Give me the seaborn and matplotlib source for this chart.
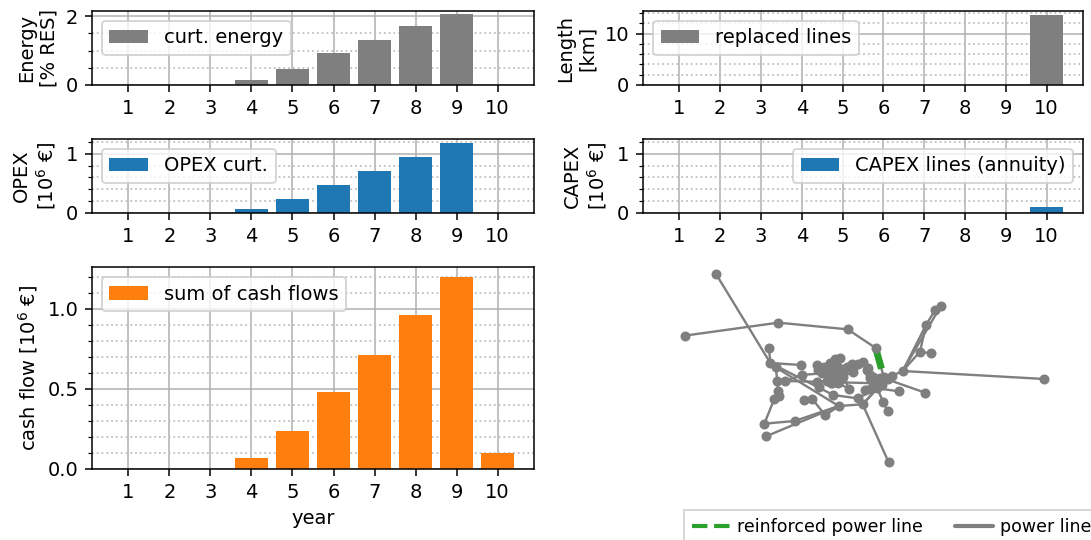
import matplotlib
matplotlib.use("Agg")

import matplotlib.pyplot as plt
from matplotlib.lines import Line2D
from matplotlib.ticker import MultipleLocator
import pandas as pd
import seaborn as sns

W, H = 1091, 540

years = [1, 2, 3, 4, 5, 6, 7, 8, 9, 10]
curt_energy = [0, 0, 0, 0.15, 0.47, 0.94, 1.32, 1.71, 2.06, 0]
replaced_lines = [0, 0, 0, 0, 0, 0, 0, 0, 0, 13.7]
opex_curt = [0, 0, 0, 0.07, 0.24, 0.48, 0.71, 0.95, 1.19, 0]
capex_lines = [0, 0, 0, 0, 0, 0, 0, 0, 0, 0.10]
cash_flow = [0, 0, 0, 0.07, 0.24, 0.48, 0.71, 0.96, 1.20, 0.10]

# grid nodes
node_x = [228, 134, 415, 623, 707, 731, 733, 903, 885, 858, 840, 872, 788, 757, 1213, 855, 777,
          712, 729, 743, 668, 746, 653, 690, 675, 596, 556, 464, 373, 378, 403, 418, 414, 491,
          516, 580, 627, 412, 436, 537, 532, 407, 391, 387, 484, 485, 530, 545, 553, 570, 585,
          600, 560, 575, 590, 610, 600, 590, 640, 635, 655, 670, 690, 700, 715, 725, 680,
          555, 575, 595, 600, 585, 570, 580, 600, 565, 640, 685, 690, 700, 710, 720, 745, 725,
          705, 610, 620, 535, 572, 595]
node_y = [57, 242, 203, 223, 279, 365, 370, 152, 166, 210, 290, 295, 348, 362, 372, 413, 409,
          400, 440, 468, 448, 622, 430, 403, 406, 453, 481, 498, 506, 544, 432, 424, 408, 435,
          431, 420, 401, 377, 378, 397, 380, 337, 324, 280, 330, 360, 331, 355, 335, 325, 313,
          308, 378, 385, 370, 365, 345, 340, 352, 327, 327, 320, 368, 380, 385, 375, 345,
          340, 335, 335, 355, 360, 360, 375, 375, 375, 340, 338, 360, 365, 380, 370, 372, 390,
          395, 345, 335, 345, 383, 385]
edges = [(0, 42), (42, 41), (1, 2), (2, 3), (3, 4), (4, 5), (5, 6), (6, 13), (13, 12), (12, 14),
         (12, 9), (9, 8), (8, 7), (12, 7), (10, 9), (12, 10), (10, 11), (6, 15), (17, 16), (6, 17),
         (17, 18), (18, 19), (17, 20), (20, 21), (20, 25), (25, 27), (27, 28), (28, 30), (30, 31),
         (31, 32), (32, 37), (29, 25), (26, 34), (34, 33), (41, 25), (42, 35), (35, 22), (22, 17),
         (37, 38), (38, 64), (42, 44), (41, 37), (38, 45), (45, 47), (43, 42), (47, 51), (46, 48),
         (48, 49), (49, 50), (50, 51), (40, 39), (40, 52), (52, 53), (53, 54), (54, 55), (55, 56),
         (56, 57), (57, 47), (54, 58), (58, 59), (59, 60), (60, 61), (61, 66), (66, 62), (62, 63),
         (63, 64), (64, 65), (65, 6), (23, 24), (23, 17), (36, 55), (22, 20), (26, 25), (20, 17),
         (46, 87), (87, 67), (67, 68), (68, 69), (69, 70), (70, 71), (71, 72), (72, 73), (73, 74),
         (74, 55), (75, 88), (88, 89), (89, 36), (85, 86), (86, 59), (76, 59), (61, 77), (77, 78),
         (78, 79), (79, 80), (80, 81), (81, 82), (82, 13), (83, 84), (84, 17), (80, 83), (81, 83),
         (85, 69), (72, 67)]
new_edge = (4, 5)

grey = "#7f7f7f"
blue = "#1f77b4"
orange = "#ff7f0e"
green = "#2ca02c"

sns.set_style("ticks", {"axes.edgecolor": "black", "text.color": "black", "axes.labelcolor": "black",
                        "xtick.color": "black", "ytick.color": "black"})
plt.rcParams["font.family"] = ["DejaVu Sans"]
plt.rcParams["axes.linewidth"] = 1.1
plt.rcParams["axes.labelpad"] = 5.6
plt.rcParams["xtick.major.size"] = 4.9
plt.rcParams["ytick.major.size"] = 4.9
plt.rcParams["ytick.minor.size"] = 2.6
plt.rcParams["xtick.major.width"] = 1.1
plt.rcParams["ytick.major.width"] = 1.1
plt.rcParams["ytick.minor.width"] = 0.85
plt.rcParams["xtick.major.pad"] = 4.9
plt.rcParams["ytick.major.pad"] = 4.9
plt.rcParams["patch.linewidth"] = 1.4
plt.rcParams["legend.edgecolor"] = "0.8"
plt.rcParams["legend.framealpha"] = 0.8


def box(l, t, r, b):
    return [l / W, 1 - b / H, (r - l) / W, (b - t) / H]


def bars(pos, vals, color, name, ylabel, top, major, minor, loc="upper left"):
    ax = fig.add_axes(box(*pos))
    sns.barplot(x=years, y=vals, color=color, saturation=1, width=0.8,
                native_scale=True, label=name, linewidth=0, ax=ax)
    ax.set_xlim(0.11, 10.89)
    ax.set_ylim(0, top)
    ax.set_xticks(years)
    ax.set_xticklabels(years)
    ax.yaxis.set_major_locator(MultipleLocator(major))
    ax.yaxis.set_minor_locator(MultipleLocator(minor))
    ax.set_axisbelow(True)
    ax.grid(True, which="major", color="#b0b0b0", lw=1.1)
    ax.grid(True, which="minor", axis="y", color="#c0c0c0", lw=1.3, ls=":")
    ax.tick_params(labelsize=14)
    ax.set_ylabel(ylabel, fontsize=14)
    ax.legend(loc=loc, fontsize=14, fancybox=True, borderaxespad=0.5)
    return ax


fig = plt.figure(figsize=(W / 100, H / 100), dpi=100)

bars((92, 11, 534, 85), curt_energy, grey, "curt. energy", "Energy\n[% RES]", 2.15, 2, 0.5)
bars((643, 11, 1083, 85), replaced_lines, grey, "replaced lines", "Length\n[km]", 14.4, 10, 2)
bars((92, 139, 534, 213), opex_curt, blue, "OPEX curt.", "OPEX\n[10$^6$ €]", 1.25, 1, 0.2)
bars((643, 139, 1083, 213), capex_lines, blue, "CAPEX lines (annuity)", "CAPEX\n[10$^6$ €]", 1.25, 1, 0.2,
     loc="upper right")
ax = bars((92, 267, 534, 469), cash_flow, orange, "sum of cash flows", "cash flow [10$^6$ €]", 1.26, 0.5, 0.1)
ax.set_xlabel("year", fontsize=14)

# network in picture coordinates
net = fig.add_axes(box(640, 255, 1091, 540))
rows = []
for i, (a, b) in enumerate(edges):
    rows.append({"edge": i, "x": node_x[a], "y": node_y[a]})
    rows.append({"edge": i, "x": node_x[b], "y": node_y[b]})
lines = pd.DataFrame(rows)
sns.lineplot(data=lines, x="x", y="y", units="edge", estimator=None, sort=False,
             color=grey, lw=1.7, ax=net)
a, b = new_edge
net.plot([node_x[a], node_x[b]], [node_y[a], node_y[b]], color=green, lw=5, zorder=3,
         dashes=(3.1, 12), dash_capstyle="butt")
sns.scatterplot(x=node_x, y=node_y, color=grey, s=52, linewidth=0, zorder=3.5, ax=net)
net.set_xlim(0, 1353)
net.set_ylim(855, 0)
net.axis("off")

handles = [Line2D([], [], color=green, lw=3, ls="--"), Line2D([], [], color=grey, lw=3)]
fig.legend(handles, ["reinforced power line", "power line"], ncol=2, fontsize=12.5, fancybox=False,
           loc="upper left", bbox_to_anchor=(684 / W, 1 - 510 / H), borderaxespad=0, borderpad=0.45,
           handlelength=2.2, handletextpad=0.4, columnspacing=1.85)

fig.savefig("out.png", dpi=100)
plt.close(fig)
